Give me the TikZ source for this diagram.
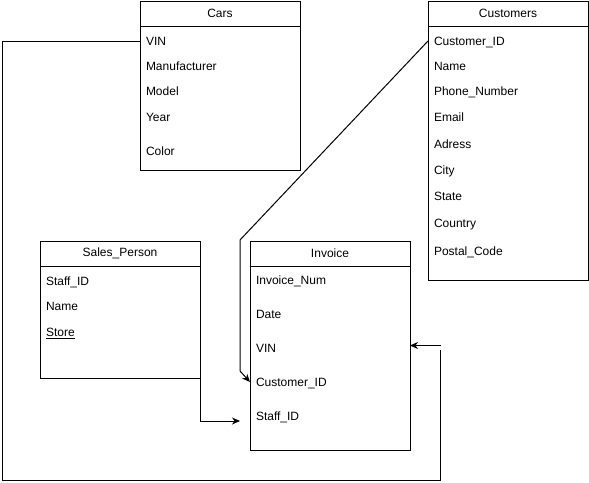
\documentclass[tikz,border=0pt]{standalone}
\usepackage{fontspec}
\setmainfont{Liberation Sans}
\usetikzlibrary{arrows.meta}
\begin{document}
\begin{tikzpicture}[x=1pt,y=-1pt,line width=1pt,
  tbody/.style={draw,rectangle,minimum width=160pt,inner sep=0pt,outer sep=0pt,anchor=north west},
  thead/.style={draw,rectangle,minimum width=160pt,minimum height=25pt,inner sep=0pt,outer sep=0pt,anchor=north west,
    font=\fontsize{12pt}{14pt}\selectfont},
  field/.style={rectangle,anchor=west,text width=148pt,inner xsep=6pt,inner ysep=0pt,outer sep=0pt,
    text height=8.6pt,text depth=0pt,align=left,font=\fontsize{12pt}{14pt}\selectfont},
  arr/.style={-{Stealth[length=8pt,width=7pt,inset=2.5pt]}},
  conn/.style={line join=miter}]
\useasboundingbox (0,0) rectangle (589,482);
% Cars
\node[tbody,minimum height=169pt] (cars) at (140,1) {};
\node[thead] (carsh) at (140,1) {Cars};
\node[field] (cvin) at (140,41) {VIN};
\node[field] (cman) at (140,66) {Manufacturer};
\node[field] (cmod) at (140,91) {Model};
\node[field] (cyear) at (140,117) {Year};
\node[field] (ccol) at (140,151) {Color};
% Customers
\node[tbody,minimum height=279pt] (cust) at (428,1) {};
\node[thead] (custh) at (428,1) {Customers};
\node[field] (kid) at (428,41) {Customer\_ID};
\node[field] (kname) at (428,66) {Name};
\node[field] (kphone) at (428,91.5) {Phone\_Number};
\node[field] (kmail) at (428,117.5) {Email};
\node[field] (kadr) at (428,144) {Adress};
\node[field] (kcity) at (428,170) {City};
\node[field] (kstate) at (428,196) {State};
\node[field] (kcountry) at (428,223) {Country};
\node[field] (kpost) at (428,251) {Postal\_Code};
% Sales_Person
\node[tbody,minimum height=137pt] (sales) at (40,241) {};
\node[thead] (salesh) at (40,241) {Sales\_Person};
\node[field] (sid) at (40,281) {Staff\_ID};
\node[field] (sname) at (40,306) {Name};
\node[field] (sstore) at (40,332) {\underline{Store}};
% Invoice
\node[tbody,minimum height=209pt] (inv) at (250,241) {};
\node[thead] (invh) at (250,241) {Invoice};
\node[field] (inum) at (250,280) {Invoice\_Num};
\node[field] (idate) at (250,314) {Date};
\node[field] (ivin) at (250,348) {VIN};
\node[field] (icust) at (250,382) {Customer\_ID};
\node[field] (istaff) at (250,416) {Staff\_ID};
% connector coordinates
\coordinate (vA) at (2,41);
\coordinate (vB) at (2,480);
\coordinate (vC) at (440,480);
\coordinate (vD) at (440,350);
\coordinate (vE) at (440.5,345.5);
\coordinate (cA) at (240,240);
\coordinate (cB) at (240,371);
\coordinate (sA) at (200,421);
\coordinate (sB) at (240,421);
% Cars VIN -> Invoice VIN
\draw[conn] (cvin.west) -- (vA) -- (vB) -- (vC) -- (vD);
\draw[arr] (vE) -- (vE -| inv.east);
% Customers Customer_ID -> Invoice Customer_ID
\draw[conn,arr] (kid.west) -- (cA) -- (cB) -- (icust.west);
% Sales_Person -> Invoice Staff_ID
\draw[conn,arr] (sales.south east) -- (sA) -- (sB);
\end{tikzpicture}
\end{document}
